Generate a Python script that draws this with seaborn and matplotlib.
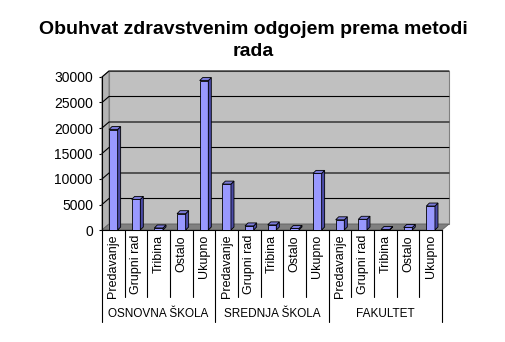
import numpy as np
import pandas as pd
import matplotlib
matplotlib.use("Agg")
import matplotlib.pyplot as plt
import seaborn as sns
from matplotlib.patches import Polygon
from matplotlib.lines import Line2D
from matplotlib.transforms import IdentityTransform, blended_transform_factory

# ---- data ----
groups = ["OSNOVNA ŠKOLA", "SREDNJA ŠKOLA", "FAKULTET"]
methods = ["Predavanje", "Grupni rad", "Tribina", "Ostalo", "Ukupno"]
osnovna = [19700, 6000, 400, 3200, 29300]
srednja = [9000, 800, 1000, 300, 11100]
fakultet = [2000, 2100, 100, 500, 4700]
y_ticks = [0, 5000, 10000, 15000, 20000, 25000, 30000]
title = "Obuhvat zdravstvenim odgojem prema metodi\nrada"

rows = []
for g, vals in zip(groups, [osnovna, srednja, fakultet]):
    for m, v in zip(methods, vals):
        rows.append({"key": f"{g}|{m}", "group": g, "method": m, "value": v})
df = pd.DataFrame(rows)
keys = list(df["key"])

sns.set_style("white")
plt.rcParams["font.family"] = ["Liberation Sans", "DejaVu Sans"]

W, H = 506, 342
DPI = 100
fig = plt.figure(figsize=(W / DPI, H / DPI), dpi=DPI)
fig.patch.set_facecolor("white")

# front plane of the 3D box in pixels
PL, PR, PB, PT = 102, 442, 230, 77
ax = fig.add_axes([PL / W, (H - PB) / H, (PR - PL) / W, (PB - PT) / H])

sns.barplot(data=df, x="key", y="value", order=keys, color="#9999FF",
            saturation=1, width=0.38, edgecolor="black", linewidth=0.6,
            ax=ax, zorder=5)
bars = list(ax.patches)
xpos = list(ax.get_xticks())

ax.set_xlim(-0.5, len(keys) - 0.5)
ax.set_ylim(y_ticks[0], y_ticks[-1])
ax.patch.set_visible(False)
for s in ["top", "right"]:
    ax.spines[s].set_visible(False)
ax.spines["left"].set_color("black")
ax.spines["left"].set_linewidth(0.8)
ax.spines["bottom"].set_color("black")
ax.spines["bottom"].set_linewidth(0.8)
ax.spines["left"].set_zorder(6)
ax.set_yticks(y_ticks)
ax.set_yticklabels([str(v) for v in y_ticks])
ax.tick_params(axis="y", direction="out", length=2.5, width=0.8, pad=4,
               labelsize=10, colors="black", left=True)
ax.set_xticks([])
ax.set_xlabel("")
ax.set_ylabel("")

fig.canvas.draw()
T = ax.transData
ident = IdentityTransform()
DX, DY = 7, 6  # depth offset in pixels

x_lo, x_hi = ax.get_xlim()
(fx0, fy0) = T.transform((x_lo, y_ticks[0]))
(fx1, _) = T.transform((x_hi, y_ticks[0]))
(_, fy1) = T.transform((x_lo, y_ticks[-1]))

# back wall
ax.add_patch(Polygon([(fx0 + DX, fy0 + DY), (fx1 + DX, fy0 + DY),
                      (fx1 + DX, fy1 + DY), (fx0 + DX, fy1 + DY)],
                     closed=True, transform=ident, facecolor="#C0C0C0",
                     edgecolor="#808080", linewidth=0.8, zorder=1, clip_on=False))
# left wall
ax.add_patch(Polygon([(fx0, fy0), (fx0 + DX, fy0 + DY), (fx0 + DX, fy1 + DY), (fx0, fy1)],
                     closed=True, transform=ident, facecolor="#B4B4B4",
                     edgecolor="#808080", linewidth=0.8, zorder=1, clip_on=False))
# floor
ax.add_patch(Polygon([(fx0, fy0), (fx1, fy0), (fx1 + DX, fy0 + DY), (fx0 + DX, fy0 + DY)],
                     closed=True, transform=ident, facecolor="#808080",
                     edgecolor="#606060", linewidth=0.6, zorder=2, clip_on=False))
# gridlines
for v in y_ticks[1:]:
    (_, gy) = T.transform((x_lo, v))
    ax.add_line(Line2D([fx0, fx0 + DX, fx1 + DX], [gy, gy + DY, gy + DY],
                       transform=ident, color="black", linewidth=0.8, zorder=3,
                       clip_on=False))

# 3D faces on bars
BD = 3
for p in bars:
    x0 = p.get_x()
    w = p.get_width()
    h = p.get_height()
    (X0, Y0) = T.transform((x0, 0))
    (X1, Y1) = T.transform((x0 + w, h))
    ax.add_patch(Polygon([(X1, Y0), (X1 + BD, Y0 + BD), (X1 + BD, Y1 + BD), (X1, Y1)],
                         closed=True, transform=ident, facecolor="#4B4BA8",
                         edgecolor="black", linewidth=0.6, zorder=5, clip_on=False))
    ax.add_patch(Polygon([(X0, Y1), (X1, Y1), (X1 + BD, Y1 + BD), (X0 + BD, Y1 + BD)],
                         closed=True, transform=ident, facecolor="#7A7AD8",
                         edgecolor="black", linewidth=0.6, zorder=5, clip_on=False))

# category labels table
bt = blended_transform_factory(ax.transData, ax.transAxes)
def yfrac(py):
    return (PB - py) / (PB - PT)

for i, (k, m) in enumerate(zip(keys, df["method"])):
    ax.text(xpos[i], yfrac(235), m, transform=bt, rotation=90, ha="center",
            va="top", fontsize=9, color="black", clip_on=False)
n_per = len(methods)
for b in range(len(keys) + 1):
    xb = b - 0.5
    bottom = 322 if b % n_per == 0 else 297
    ax.add_line(Line2D([xb, xb], [yfrac(PB), yfrac(bottom)], transform=bt,
                       color="black", linewidth=0.8, clip_on=False, zorder=6))
for gi, g in enumerate(groups):
    cx = np.mean(xpos[gi * n_per:(gi + 1) * n_per])
    ax.text(cx, yfrac(314), g, transform=bt, ha="center", va="center",
            fontsize=8.5, color="black", clip_on=False)

fig.text(0.5, 1 - 40.5 / H, title, ha="center", va="center", fontsize=14,
         fontweight="bold", color="black", linespacing=1.34)

fig.savefig("out.png", dpi=DPI, facecolor="white")
